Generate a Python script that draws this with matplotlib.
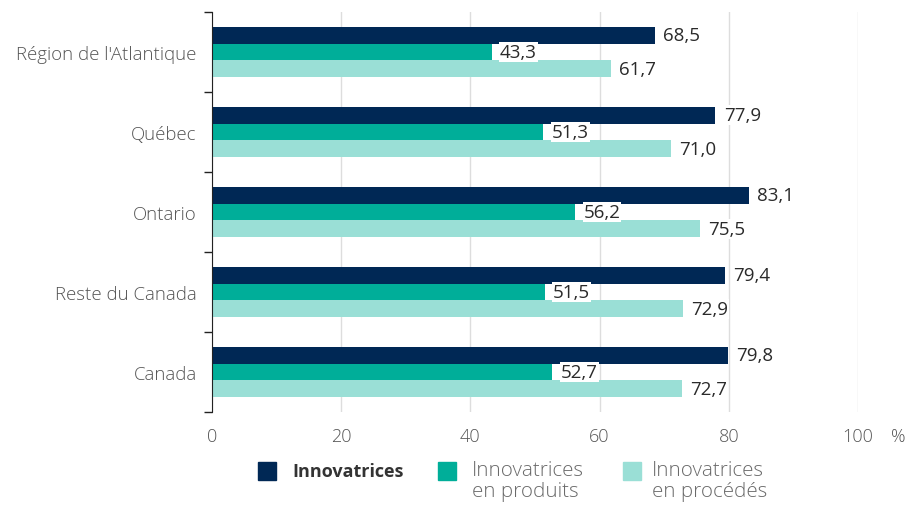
import matplotlib
matplotlib.use("Agg")
import matplotlib.pyplot as plt
from matplotlib.patches import Rectangle
import numpy as np

plt.rcParams['font.family'] = ['Open Sans', 'DejaVu Sans']

categories = ["Région de l'Atlantique", "Québec", "Ontario", "Reste du Canada", "Canada"]
innovatrices = [68.5, 77.9, 83.1, 79.4, 79.8]
produits = [43.3, 51.3, 56.2, 51.5, 52.7]
procedes = [61.7, 71.0, 75.5, 72.9, 72.7]
series_names = ["Innovatrices", "Innovatrices\nen produits", "Innovatrices\nen procédés"]
colors = ["#002855", "#00AE99", "#9ADFD6"]
xticks = [0, 20, 40, 60, 80, 100]

fig = plt.figure(figsize=(9.22, 5.06), dpi=100)
ax = fig.add_axes([212/922, 1-413/506, (858-212)/922, 400/506])

n = len(categories)
y = np.arange(n)
h = 0.21
series = [innovatrices, produits, procedes]
for i, (vals, c) in enumerate(zip(series, colors)):
    pos = y + (i - 1) * h
    ax.barh(pos, vals, height=h, color=c, zorder=2)
    for p, v in zip(pos, vals):
        ax.text(v + 1.3, p, f"{v:.1f}".replace(".", ","), va="center", ha="left",
                fontsize=13.5, color="#2a2a2a", zorder=3,
                bbox=dict(facecolor="white", edgecolor="none", pad=0.5))

ax.set_ylim(n - 0.5, -0.5)
ax.set_xlim(0, 100)
ax.set_xticks(xticks)
ax.set_xticklabels([str(t) for t in xticks], fontsize=13, color="#555555", fontweight="light")
ax.set_yticks(y)
ax.set_yticklabels(categories, fontsize=13.4, color="#555555", fontweight="light")
ax.tick_params(axis="y", length=0, pad=11)
ax.tick_params(axis="x", length=0, pad=11)
ax.set_yticks(np.arange(n + 1) - 0.5, minor=True)
ax.tick_params(axis="y", which="minor", length=6, width=1, color="#222222")
ax.grid(axis="x", color="#dddddd", linewidth=1, zorder=0)
for s in ["top", "right", "bottom"]:
    ax.spines[s].set_visible(False)
ax.spines["left"].set_color("#222222")
ax.spines["left"].set_zorder(4)

fig.text(898/922, 1-437/506, "%", fontsize=13, color="#555555", ha="center", va="center",
         fontweight="light")

# legend
leg_sq_x = [258, 438, 623]
leg_tx_x = [292, 472, 652]
for i in range(3):
    fig.patches.append(Rectangle((leg_sq_x[i]/922, 1-481/506), 18/922, 18/506,
                                 transform=fig.transFigure, color=colors[i]))
    if i == 0:
        fig.text(leg_tx_x[i]/922, 1-472/506, series_names[i], fontsize=13,
                 fontweight="bold", color="#333333", va="center", ha="left")
    else:
        fig.text(leg_tx_x[i]/922, 1-461/506, series_names[i], fontsize=14.8,
                 color="#6a6a6a", va="top", ha="left", linespacing=1.08,
                 fontweight="light")

fig.savefig("out.png", dpi=100)
